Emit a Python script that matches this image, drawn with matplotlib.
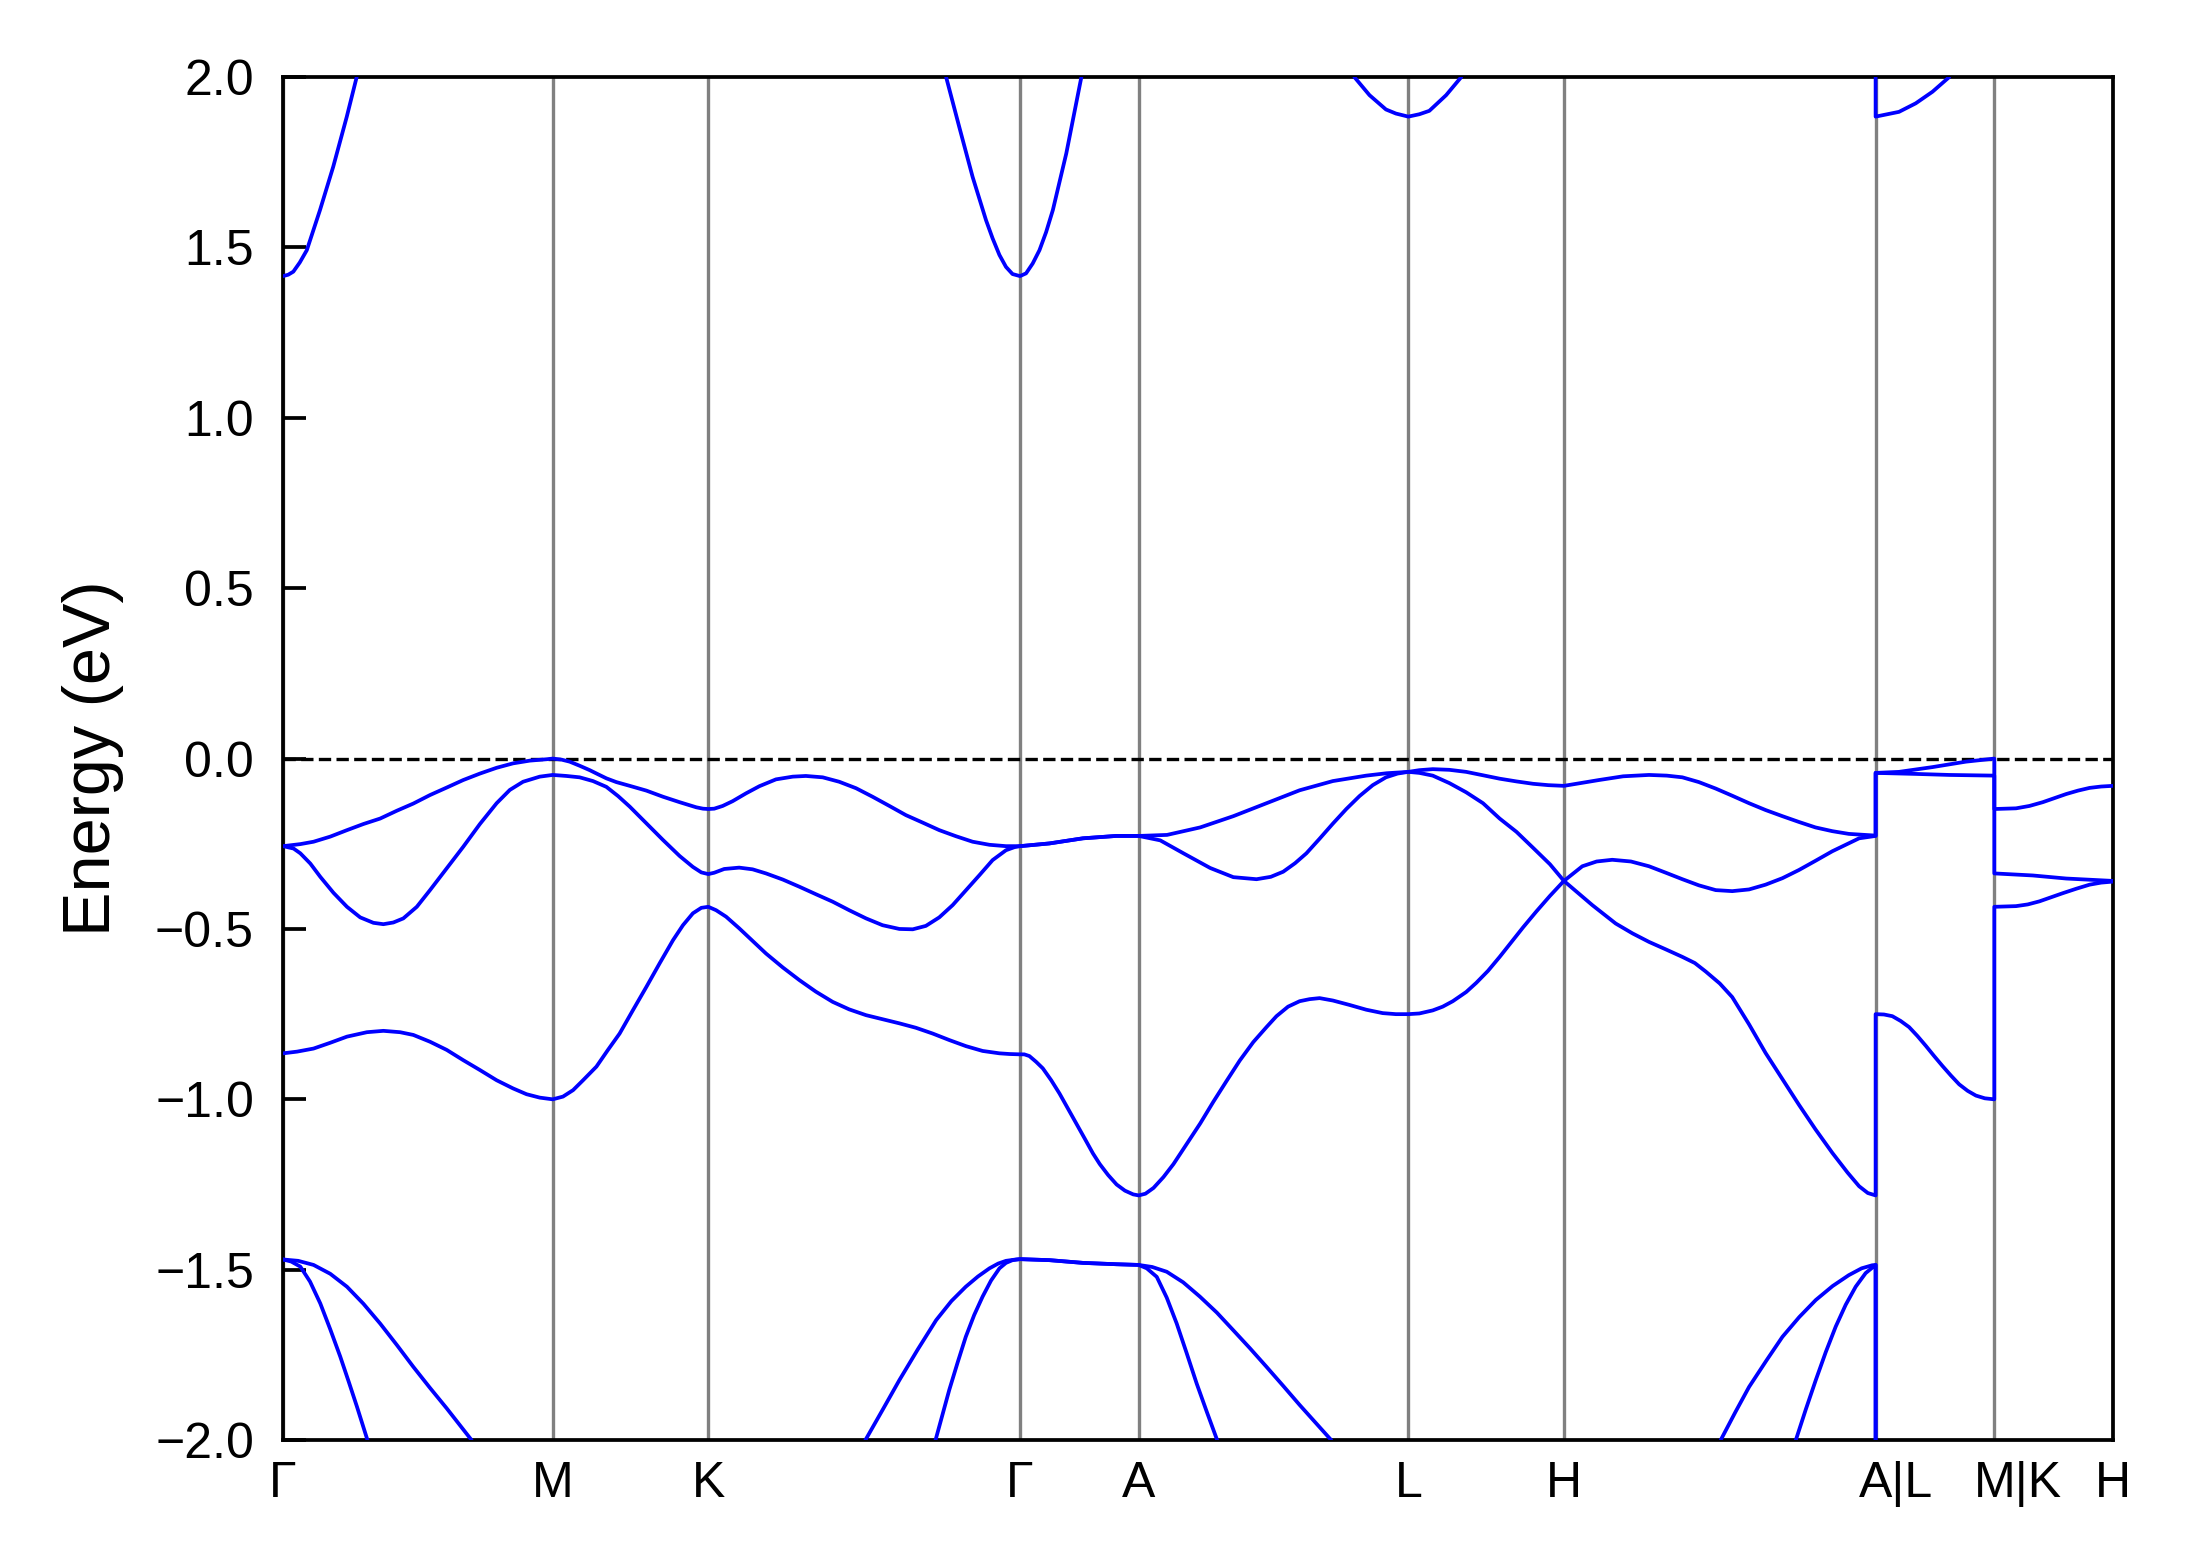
#!/usr/bin/env python3
"""
Band structure along G-M-K-G-A-L-H-A|L-M|K-H, values read off the reference plot.

Each band is a list of path segments; each segment is a list of
(fraction along segment, energy in eV) pairs.  An empty segment means the
band is outside the energy window there.
"""

import numpy as np
import matplotlib
matplotlib.use("Agg")
import matplotlib.pyplot as plt
from matplotlib.transforms import ScaledTranslation

plt.rcParams["font.family"] = ["Liberation Sans", "DejaVu Sans"]

# k-path (cumulative distance at each high-symmetry point)
K_DIST = [0.0, 0.577, 0.910, 1.577, 1.831, 2.408, 2.741, 3.408, 3.662, 3.916]
K_LABELS = ["Γ", "M", "K", "Γ", "A", "L", "H", "A|L", "M|K", "H"]

E_MIN, E_MAX = -2.0, 2.0
Y_TICKS = [-2.0, -1.5, -1.0, -0.5, 0.0, 0.5, 1.0, 1.5, 2.0]

# segments: G-M, M-K, K-G, G-A, A-L, L-H, H-A, L-M, K-H
CB1 = [
    [(0.0, 1.416), (0.019, 1.420), (0.038, 1.429), (0.062, 1.456), (0.088, 1.492), (0.137, 1.610), (0.186, 1.737),
     (0.236, 1.883), (0.273, 2.0)],
    [],
    [(0.763, 2.0), (0.805, 1.854), (0.848, 1.707), (0.891, 1.580), (0.912, 1.527), (0.934, 1.478), (0.955, 1.443),
     (0.976, 1.422), (1.0, 1.416)],
    [(0.0, 1.416), (0.051, 1.424), (0.107, 1.453), (0.164, 1.492), (0.220, 1.545), (0.277, 1.610), (0.390, 1.776),
     (0.517, 2.0)],
    [(0.800, 2.0), (0.856, 1.947), (0.917, 1.905), (0.954, 1.893), (1.0, 1.884)],
    [(0.0, 1.884), (0.071, 1.891), (0.135, 1.901), (0.243, 1.947), (0.340, 2.0)],
    [(1.0, 2.0)],
    [(0.0, 1.884), (0.197, 1.898), (0.338, 1.923), (0.479, 1.957), (0.620, 2.0)],
    [],
]

VB1 = [
    [(0.0, -0.257), (0.064, -0.251), (0.113, -0.244), (0.175, -0.229), (0.237, -0.210), (0.298, -0.192), (0.360, -0.176),
     (0.422, -0.153), (0.483, -0.132), (0.545, -0.107), (0.607, -0.085), (0.668, -0.063), (0.730, -0.044),
     (0.792, -0.027), (0.853, -0.014), (0.915, -0.006), (0.977, -0.002), (1.0, 0.0)],
    [(0.0, 0.0), (0.056, -0.003), (0.109, -0.009), (0.173, -0.021), (0.238, -0.034), (0.291, -0.046), (0.345, -0.058),
     (0.409, -0.069), (0.495, -0.080), (0.602, -0.094), (0.709, -0.112), (0.816, -0.128), (0.923, -0.143),
     (0.966, -0.147), (1.0, -0.148)],
    [(0.0, -0.148), (0.019, -0.147), (0.046, -0.139), (0.078, -0.125), (0.121, -0.102), (0.164, -0.081), (0.217, -0.061),
     (0.271, -0.053), (0.313, -0.051), (0.367, -0.055), (0.420, -0.068), (0.474, -0.087), (0.527, -0.112),
     (0.581, -0.139), (0.634, -0.166), (0.688, -0.188), (0.741, -0.210), (0.795, -0.228), (0.848, -0.244),
     (0.902, -0.253), (0.955, -0.257), (1.0, -0.257)],
    [(0.0, -0.257), (0.248, -0.249), (0.530, -0.234), (0.811, -0.227), (1.0, -0.227)],
    [(0.0, -0.227), (0.105, -0.224), (0.228, -0.202), (0.351, -0.169), (0.474, -0.131), (0.597, -0.093), (0.720, -0.066),
     (0.844, -0.050), (0.920, -0.043), (1.0, -0.039)],
    [(0.0, -0.039), (0.071, -0.034), (0.157, -0.031), (0.264, -0.033), (0.372, -0.039), (0.480, -0.049), (0.587, -0.059),
     (0.695, -0.067), (0.802, -0.074), (0.900, -0.078), (1.0, -0.080)],
    [(0.0, -0.080), (0.112, -0.063), (0.190, -0.052), (0.273, -0.048), (0.330, -0.050), (0.380, -0.055), (0.433, -0.069),
     (0.487, -0.088), (0.540, -0.109), (0.594, -0.131), (0.647, -0.151), (0.701, -0.169), (0.754, -0.186),
     (0.807, -0.202), (0.861, -0.213), (0.914, -0.221), (1.0, -0.226)],
    [(0.0, -0.042), (0.197, -0.039), (0.479, -0.025), (0.761, -0.009), (1.0, 0.0)],
    [(0.0, -0.148), (0.183, -0.146), (0.296, -0.139), (0.408, -0.128), (0.507, -0.116), (0.606, -0.104),
     (0.705, -0.094), (0.803, -0.086), (0.900, -0.082), (1.0, -0.080)],
]

VB2 = [
    [(0.0, -0.257), (0.039, -0.264), (0.064, -0.278), (0.101, -0.308), (0.138, -0.347), (0.187, -0.394), (0.237, -0.435),
     (0.286, -0.466), (0.335, -0.482), (0.372, -0.486), (0.409, -0.481), (0.446, -0.469), (0.496, -0.435),
     (0.545, -0.386), (0.607, -0.322), (0.668, -0.259), (0.730, -0.192), (0.792, -0.131), (0.841, -0.092),
     (0.890, -0.068), (0.952, -0.053), (1.0, -0.048)],
    [(0.0, -0.048), (0.088, -0.051), (0.173, -0.055), (0.259, -0.066), (0.345, -0.083), (0.420, -0.110), (0.495, -0.141),
     (0.602, -0.190), (0.709, -0.239), (0.816, -0.286), (0.901, -0.318), (0.955, -0.334), (1.0, -0.339)],
    [(0.0, -0.339), (0.019, -0.335), (0.051, -0.324), (0.099, -0.320), (0.142, -0.325), (0.185, -0.337), (0.239, -0.355),
     (0.292, -0.376), (0.345, -0.398), (0.399, -0.420), (0.452, -0.445), (0.506, -0.469), (0.559, -0.489),
     (0.613, -0.500), (0.656, -0.501), (0.698, -0.491), (0.741, -0.466), (0.784, -0.430), (0.827, -0.386),
     (0.870, -0.342), (0.912, -0.298), (0.955, -0.269), (0.982, -0.260), (1.0, -0.257)],
    [(0.0, -0.257), (0.248, -0.249), (0.530, -0.234), (0.811, -0.227), (1.0, -0.227)],
    [(0.0, -0.227), (0.080, -0.240), (0.166, -0.278), (0.265, -0.321), (0.351, -0.348), (0.437, -0.354), (0.490, -0.347),
     (0.536, -0.332), (0.580, -0.307), (0.622, -0.278), (0.670, -0.236), (0.720, -0.191), (0.770, -0.148),
     (0.819, -0.110), (0.868, -0.078), (0.917, -0.055), (0.960, -0.044), (1.0, -0.039)],
    [(0.0, -0.039), (0.071, -0.042), (0.157, -0.050), (0.264, -0.072), (0.372, -0.099), (0.480, -0.131),
     (0.587, -0.176), (0.695, -0.215), (0.802, -0.262), (0.910, -0.310), (1.0, -0.359)],
    [(0.0, -0.359), (0.059, -0.316), (0.105, -0.302), (0.155, -0.297), (0.215, -0.302), (0.273, -0.316),
     (0.327, -0.335), (0.380, -0.354), (0.433, -0.372), (0.487, -0.386), (0.540, -0.389), (0.594, -0.384),
     (0.647, -0.370), (0.701, -0.351), (0.754, -0.327), (0.807, -0.300), (0.861, -0.272), (0.947, -0.234),
     (1.0, -0.227)],
    [(0.0, -0.042), (0.338, -0.045), (0.620, -0.048), (1.0, -0.050)],
    [(0.0, -0.337), (0.324, -0.343), (0.606, -0.352), (1.0, -0.359)],
]

VB3 = [
    [(0.0, -0.865), (0.052, -0.860), (0.113, -0.851), (0.175, -0.834), (0.237, -0.816), (0.311, -0.803), (0.372, -0.799),
     (0.434, -0.803), (0.483, -0.811), (0.545, -0.831), (0.607, -0.855), (0.668, -0.885), (0.730, -0.914),
     (0.792, -0.944), (0.853, -0.968), (0.903, -0.985), (0.952, -0.995), (1.0, -1.0)],
    [(0.0, -1.0), (0.066, -0.992), (0.131, -0.973), (0.195, -0.944), (0.281, -0.904), (0.355, -0.855), (0.430, -0.807),
     (0.516, -0.738), (0.602, -0.670), (0.687, -0.601), (0.773, -0.533), (0.837, -0.489), (0.901, -0.454),
     (0.955, -0.438), (1.0, -0.435)],
    [(0.0, -0.435), (0.025, -0.445), (0.057, -0.464), (0.099, -0.498), (0.142, -0.535), (0.185, -0.572), (0.239, -0.613),
     (0.292, -0.650), (0.345, -0.684), (0.399, -0.714), (0.452, -0.736), (0.506, -0.753), (0.559, -0.765),
     (0.613, -0.777), (0.666, -0.790), (0.720, -0.807), (0.773, -0.826), (0.827, -0.844), (0.880, -0.858),
     (0.934, -0.865), (0.966, -0.867), (1.0, -0.868)],
    [(0.0, -0.868), (0.036, -0.868), (0.079, -0.873), (0.136, -0.890), (0.192, -0.909), (0.263, -0.944), (0.333, -0.983),
     (0.404, -1.027), (0.475, -1.071), (0.545, -1.115), (0.615, -1.159), (0.672, -1.190), (0.742, -1.222),
     (0.814, -1.250), (0.884, -1.268), (0.954, -1.279), (1.0, -1.282)],
    [(0.0, -1.282), (0.025, -1.277), (0.055, -1.260), (0.092, -1.228), (0.129, -1.190), (0.179, -1.130), (0.228, -1.071),
     (0.277, -1.007), (0.326, -0.946), (0.375, -0.886), (0.425, -0.832), (0.474, -0.788), (0.511, -0.756),
     (0.554, -0.728), (0.597, -0.712), (0.634, -0.706), (0.671, -0.703), (0.720, -0.710), (0.782, -0.723),
     (0.844, -0.737), (0.905, -0.747), (0.954, -0.750), (1.0, -0.750)],
    [(0.0, -0.750), (0.071, -0.748), (0.157, -0.739), (0.221, -0.728), (0.286, -0.712), (0.372, -0.685),
     (0.437, -0.658), (0.512, -0.623), (0.587, -0.582), (0.663, -0.538), (0.738, -0.495), (0.824, -0.448),
     (0.910, -0.403), (1.0, -0.359)],
    [(0.0, -0.359), (0.091, -0.430), (0.166, -0.484), (0.220, -0.513), (0.273, -0.538), (0.327, -0.560),
     (0.380, -0.582), (0.420, -0.600), (0.455, -0.625), (0.500, -0.660), (0.540, -0.700), (0.594, -0.780),
     (0.647, -0.864), (0.701, -0.941), (0.754, -1.016), (0.807, -1.088), (0.861, -1.157), (0.910, -1.215),
     (0.947, -1.255), (0.975, -1.275), (1.0, -1.282)],
    [(0.0, -0.750), (0.070, -0.751), (0.141, -0.756), (0.211, -0.770), (0.282, -0.788), (0.352, -0.814),
     (0.423, -0.843), (0.493, -0.873), (0.563, -0.902), (0.634, -0.930), (0.704, -0.956), (0.775, -0.975),
     (0.845, -0.989), (0.920, -0.997), (1.0, -1.0)],
    [(0.0, -0.435), (0.183, -0.433), (0.282, -0.428), (0.380, -0.419), (0.479, -0.407), (0.577, -0.395),
     (0.690, -0.382), (0.803, -0.370), (0.900, -0.364), (1.0, -0.361)],
]

VB4 = [
    [(0.0, -1.470), (0.056, -1.474), (0.113, -1.486), (0.175, -1.512), (0.237, -1.550), (0.298, -1.600),
     (0.360, -1.658), (0.422, -1.721), (0.483, -1.785), (0.545, -1.847), (0.607, -1.907), (0.699, -2.0)],
    [],
    [(0.504, -2.0), (0.560, -1.910), (0.613, -1.824), (0.672, -1.734), (0.731, -1.648), (0.780, -1.592),
     (0.826, -1.550), (0.865, -1.520), (0.902, -1.496), (0.930, -1.482), (0.955, -1.474), (0.987, -1.470),
     (1.0, -1.469)],
    [(0.0, -1.469), (0.249, -1.472), (0.531, -1.480), (0.814, -1.484), (1.0, -1.486)],
    [(0.0, -1.486), (0.050, -1.492), (0.104, -1.506), (0.165, -1.537), (0.227, -1.579), (0.290, -1.626),
     (0.350, -1.677), (0.412, -1.730), (0.474, -1.785), (0.536, -1.841), (0.597, -1.897), (0.714, -2.0)],
    [],
    [(0.503, -2.0), (0.550, -1.918), (0.594, -1.844), (0.650, -1.766), (0.701, -1.697), (0.755, -1.639),
     (0.808, -1.589), (0.862, -1.548), (0.914, -1.516), (0.955, -1.496), (0.989, -1.487), (1.0, -1.486)],
    [(0.0, -2.0)],
    [],
]

VB5 = [
    [(0.0, -1.470), (0.030, -1.476), (0.064, -1.491), (0.100, -1.535), (0.138, -1.599), (0.175, -1.675),
     (0.212, -1.755), (0.244, -1.830), (0.274, -1.902), (0.313, -2.0)],
    [],
    [(0.729, -2.0), (0.773, -1.853), (0.800, -1.772), (0.826, -1.697), (0.853, -1.633), (0.880, -1.579),
     (0.907, -1.532), (0.934, -1.496), (0.955, -1.480), (0.976, -1.472), (1.0, -1.469)],
    [(0.0, -1.469), (0.249, -1.472), (0.531, -1.480), (0.814, -1.484), (1.0, -1.486)],
    [(0.0, -1.486), (0.030, -1.496), (0.067, -1.521), (0.104, -1.582), (0.141, -1.658), (0.178, -1.745),
     (0.215, -1.834), (0.253, -1.918), (0.291, -2.0)],
    [],
    [(0.744, -2.0), (0.776, -1.910), (0.808, -1.824), (0.840, -1.742), (0.872, -1.667), (0.904, -1.603),
     (0.936, -1.550), (0.968, -1.510), (1.0, -1.486)],
    [(0.0, -2.0)],
    [],
]

BANDS = [VB5, VB4, VB3, VB2, VB1, CB1]

BAND_COLOR = "#0000FF"
KLINE_COLOR = "#808080"
LABEL_SIZE = 12


def band_to_xy(segments):
    """Turn per-segment (t, E) lists into one x/y polyline, NaN where the band leaves the window."""
    xs, ys = [], []
    prev_end = None
    for i, seg in enumerate(segments):
        k0, k1 = K_DIST[i], K_DIST[i + 1]
        if not seg:
            prev_end = None
            continue
        if xs and (prev_end is None or prev_end < 1.0 or seg[0][0] > 0.0):
            xs.append(np.nan)
            ys.append(np.nan)
        for t, e in seg:
            xs.append(k0 + t * (k1 - k0))
            ys.append(e)
        prev_end = seg[-1][0]
    return np.array(xs), np.array(ys)


def shift_split_labels(fig, ax):
    """Put the first letter of labels like 'A|L' on the tick, as in the original plot."""
    fig.canvas.draw()
    renderer = fig.canvas.get_renderer()
    for lab in ax.get_xticklabels():
        txt = lab.get_text()
        if "|" not in txt:
            continue
        full_w = lab.get_window_extent(renderer).width
        probe = ax.text(0, 0, txt[0], fontsize=LABEL_SIZE)
        first_w = probe.get_window_extent(renderer).width
        probe.remove()
        dx = (full_w - first_w) / 2.0 / fig.dpi
        lab.set_transform(lab.get_transform() + ScaledTranslation(dx, 0, fig.dpi_scale_trans))


def main():
    fig = plt.figure(figsize=(2191 / 300, 1567 / 300), dpi=300)
    ax = fig.add_axes([0.1292, 0.0810, 0.8352, 0.8698])

    for k in K_DIST:
        ax.axvline(k, color=KLINE_COLOR, linewidth=0.8, zorder=1)

    ax.axhline(0.0, color="black", linestyle="--", linewidth=0.8, zorder=2)

    for band in BANDS:
        x, y = band_to_xy(band)
        ax.plot(x, y, color=BAND_COLOR, linewidth=0.9, zorder=3,
                solid_joinstyle="round", solid_capstyle="round")

    ax.set_xlim(K_DIST[0], K_DIST[-1])
    ax.set_ylim(E_MIN, E_MAX)
    ax.set_xticks(K_DIST)
    ax.set_xticklabels(K_LABELS)
    ax.set_yticks(Y_TICKS)
    ax.set_yticklabels([f"{v:.1f}".replace("-", "\u2212") for v in Y_TICKS])

    ax.tick_params(axis="y", direction="in", length=5.5, width=0.9, labelsize=LABEL_SIZE, pad=7)
    ax.tick_params(axis="x", length=0, labelsize=LABEL_SIZE, pad=5)
    for spine in ax.spines.values():
        spine.set_linewidth(0.9)

    ax.set_ylabel("Energy (eV)", fontsize=16, labelpad=7.5)

    shift_split_labels(fig, ax)

    fig.savefig("out.png", dpi=300)
    plt.close(fig)


if __name__ == "__main__":
    main()
